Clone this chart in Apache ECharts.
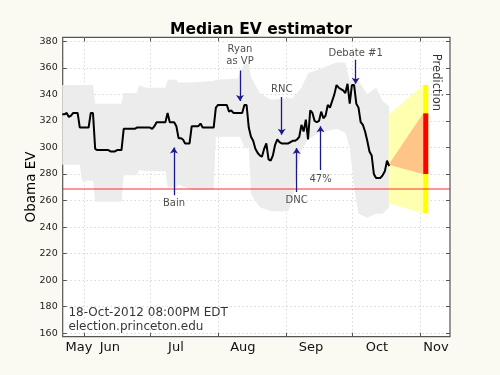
<!DOCTYPE html>
<html>
<head>
<meta charset="utf-8">
<script src="https://cdn.jsdelivr.net/npm/echarts@6/dist/echarts.min.js"></script>
<style>
  html, body { margin: 0; padding: 0; background: #fafaf2; }
  #chart { width: 500px; height: 375px; }
</style>
</head>
<body>
<div id="chart"></div>
<script>
  // x values are day numbers counted from 1 May 2012 (1 May = 0)
  var firstDay = 21; // 22 May, one value per day up to 18 Oct
  var medianEV = [
    325, 325, 326, 323, 324, 326, 326, 326, 315, 315,
    315, 315, 315, 326, 326, 299, 298, 298, 298, 298,
    298, 298, 297, 297, 297, 298, 298, 298, 314, 314,
    314, 314, 314, 314, 315, 315, 315, 315, 315, 315,
    315, 314, 316, 319, 319, 319, 319, 319, 326, 319,
    319, 319, 316, 307, 307, 306, 303, 303, 303, 316,
    316, 316, 316, 318, 315, 315, 315, 315, 315, 315,
    330, 332, 332, 332, 332, 332, 327, 328, 326, 326,
    326, 326, 326, 332, 332, 315, 308, 305, 299, 296,
    294, 293, 299, 303, 291, 290, 294, 302, 306, 304,
    303, 303, 303, 303, 304, 305, 305, 306, 308, 317,
    312, 321, 306, 328, 326, 320, 319, 320, 327, 322,
    324, 332, 330, 335, 340, 347, 345, 344, 343, 341,
    348, 333, 347, 347, 333, 330, 319, 317, 312, 305,
    297, 294, 280, 277, 277, 277, 279, 282, 290, 286
  ];
  // gray range: [day, low, high]
  var band = [
    [21, 287, 347], [29, 287, 347], [30, 275, 347], [35, 275, 347],
    [36, 259, 333], [48, 259, 333], [49, 279, 341], [55, 279, 341],
    [56, 283, 347], [59, 282, 345], [68, 282, 345], [69, 270, 351],
    [73, 270, 351], [74, 272, 349], [80, 268, 349], [90, 268, 350],
    [91, 308, 351], [101, 308, 352], [102, 308, 357], [104, 300, 363],
    [106, 300, 363], [107, 265, 353], [111, 255, 341], [116, 252, 336],
    [124, 252, 337], [126, 262, 337], [128, 283, 341], [130, 298, 345],
    [133, 306, 356], [138, 311, 359], [146, 314, 364], [150, 311, 364],
    [152, 300, 350], [154, 270, 352], [156, 250, 350], [160, 247, 340],
    [164, 250, 345], [167, 250, 335], [170, 255, 331]
  ];
  var monthStarts = [31, 61, 92, 123, 153, 184];
  var monthLabelDays = [28.6, 42.7, 72.8, 103.3, 134.3, 164.4, 191.3];
  var monthNames = ['May', 'Jun', 'Jul', 'Aug', 'Sep', 'Oct', 'Nov'];
  var evTicks = [160, 180, 200, 220, 240, 260, 280, 300, 320, 340, 360, 380];
  var threshold = 269;
  // name, day, arrow tail, arrow head, label position
  var events = [
    ['Bain', 71.9, 264, 300, 258],
    ['Ryan\nas VP', 102.0, 358, 335, 369],
    ['RNC', 121.0, 338, 309.5, 344],
    ['DNC', 127.8, 266.5, 299.5, 260.4],
    ['47%', 138.7, 283, 316, 276.2],
    ['Debate #1', 154.7, 366, 348, 371.2]
  ];
  // prediction cone
  var predDays = [169.7, 185.5];
  var predOuterStart = [258, 324.5];
  var predOuterEnd = [250.4, 347];
  var predInnerStart = 287;
  var predInnerEnd = [280, 325.7];
  var predBarDays = [185.5, 187.8];

  function polygon(points, color, z) {
    return {
      type: 'custom',
      coordinateSystem: 'cartesian2d',
      data: [points[0]],
      silent: true,
      z: z,
      renderItem: function (params, api) {
        return {
          type: 'polygon',
          shape: { points: points.map(function (p) { return api.coord(p); }) },
          style: { fill: color }
        };
      }
    };
  }

  var bandPoints = band.map(function (b) { return [b[0], b[2]]; })
    .concat(band.slice().reverse().map(function (b) { return [b[0], b[1]]; }));

  var outerCone = [
    [predDays[0], predOuterStart[0]], [predDays[0], predOuterStart[1]],
    [predDays[1], predOuterEnd[1]], [predDays[1], predOuterEnd[0]]
  ];
  var innerCone = [
    [predDays[0], predInnerStart], [predDays[1], predInnerEnd[1]], [predDays[1], predInnerEnd[0]]
  ];
  var yellowBar = [
    [predBarDays[0], predOuterEnd[0]], [predBarDays[0], predOuterEnd[1]],
    [predBarDays[1], predOuterEnd[1]], [predBarDays[1], predOuterEnd[0]]
  ];
  var redBar = [
    [predBarDays[0], predInnerEnd[0]], [predBarDays[0], predInnerEnd[1]],
    [predBarDays[1], predInnerEnd[1]], [predBarDays[1], predInnerEnd[0]]
  ];

  var font = 'DejaVu Sans';
  var xMin = 21.2, xMax = 197.7, yMin = 157.4, yMax = 383;
  var gridLine = { show: true, lineStyle: { color: '#c8c8c8', type: [1, 3], width: 1 } };

  var chart = echarts.init(document.getElementById('chart'));
  chart.setOption({
    animation: false,
    backgroundColor: '#fafaf2',
    textStyle: { fontFamily: font },
    title: {
      text: 'Median EV estimator',
      left: 256, top: 17, textAlign: 'center',
      textStyle: { fontFamily: font, fontSize: 15.5, fontWeight: 'bold', color: '#000' }
    },
    grid: {
      left: 62.7, right: 50, top: 37.3, bottom: 38.3,
      show: true, backgroundColor: '#fff', borderColor: '#555', borderWidth: 1.2,
      outerBoundsMode: 'none'
    },
    xAxis: [{
      type: 'value', min: xMin, max: xMax,
      axisLine: { show: false },
      axisTick: { show: true, inside: true, length: 4, customValues: monthStarts, lineStyle: { color: '#555' } },
      axisLabel: {
        customValues: monthLabelDays, margin: 4, fontSize: 13, color: '#111', fontFamily: font,
        formatter: function (v) { return monthNames[monthLabelDays.indexOf(v)]; }
      },
      splitLine: gridLine
    }, {
      type: 'value', min: xMin, max: xMax, position: 'top',
      axisLine: { show: false },
      axisTick: { show: true, inside: true, length: 4, customValues: monthStarts, lineStyle: { color: '#555' } },
      axisLabel: { show: false },
      splitLine: { show: false }
    }],
    yAxis: [{
      type: 'value', min: yMin, max: yMax,
      name: 'Obama EV', nameLocation: 'middle', nameGap: 24, nameRotate: 90, nameMoveOverlap: false,
      nameTextStyle: { fontSize: 13.5, color: '#000', fontFamily: font },
      axisLine: { show: false },
      axisTick: { show: true, inside: true, length: 4, customValues: evTicks, lineStyle: { color: '#555' } },
      axisLabel: { customValues: evTicks, margin: 5, fontSize: 9.5, color: '#222', fontFamily: font },
      splitLine: gridLine
    }, {
      type: 'value', min: yMin, max: yMax, position: 'right',
      axisLine: { show: false },
      axisTick: { show: true, inside: true, length: 4, customValues: evTicks, lineStyle: { color: '#555' } },
      axisLabel: { show: false },
      splitLine: { show: false }
    }],
    series: [
      polygon(bandPoints, '#ececec', 1),
      polygon(outerCone, '#ffffb0', 2),
      polygon(innerCone, '#ffc487', 3),
      polygon(yellowBar, '#ffff00', 4),
      polygon(redBar, '#ff0000', 5),
      {
        type: 'line',
        data: medianEV.map(function (v, i) { return [firstDay + i, v]; }),
        showSymbol: false,
        lineStyle: { color: '#000', width: 2 },
        z: 6,
        markLine: {
          silent: true, symbol: 'none', label: { show: false },
          lineStyle: { color: 'rgba(255,0,0,0.55)', width: 1.5, type: 'solid' },
          data: [{ yAxis: threshold }]
        }
      },
      {
        type: 'lines',
        coordinateSystem: 'cartesian2d',
        symbol: ['none', 'arrow'],
        symbolSize: 6,
        lineStyle: { color: '#1a1a8c', width: 1.3, opacity: 1 },
        z: 7,
        data: events.map(function (e) { return { coords: [[e[1], e[2]], [e[1], e[3]]] }; })
      },
      {
        type: 'scatter',
        symbolSize: 0,
        z: 8,
        label: {
          show: true, position: 'inside', formatter: '{b}',
          fontSize: 10, lineHeight: 12, color: '#222', fontFamily: font
        },
        data: events.map(function (e) { return { name: e[0], value: [e[1], e[4]] }; })
      },
      {
        type: 'scatter',
        symbolSize: 0,
        z: 8,
        label: {
          show: true, position: 'inside', formatter: '{b}', rotate: -90,
          fontSize: 11.5, color: '#000', fontFamily: font
        },
        data: [{ name: 'Prediction', value: [191.3, 349] }]
      },
      {
        type: 'scatter',
        symbolSize: 0,
        z: 8,
        label: {
          show: true, position: 'right', distance: 0, formatter: '{b}',
          fontSize: 12, color: '#000', fontFamily: font
        },
        data: [
          { name: '18-Oct-2012 08:00PM EDT', value: [23.8, 175] },
          { name: 'election.princeton.edu', value: [23.8, 164.5] }
        ]
      }
    ]
  });
</script>
</body>
</html>
